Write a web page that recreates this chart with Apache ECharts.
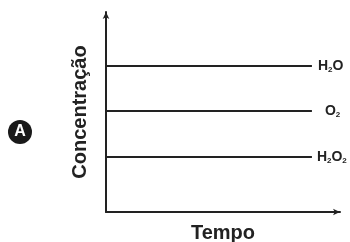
<!DOCTYPE html>
<html>
<head>
<meta charset="utf-8">
<script src="https://cdn.jsdelivr.net/npm/echarts@6/dist/echarts.min.js"></script>
<style>
  html, body { margin: 0; padding: 0; background: #fff; }
  #chart { width: 350px; height: 242px; }
</style>
</head>
<body>
<div id="chart"></div>
<script>
  // tempo (início e fim das linhas) e concentrações constantes
  const tempo = [0, 88];
  const especies = ['H2O', 'O2', 'H2O2'];
  const rotulos = ['{a|H}{s|2}{a|O}', '{a|O}{s|2}', '{a|H}{s|2}{a|O}{s|2}'];
  const concentracoes = [73, 50.5, 27.5];
  const afastamento = [6, 13, 5];

  const chart = echarts.init(document.getElementById('chart'));
  const FONT = 'Liberation Sans, Arial, sans-serif';
  const INK = '#222';

  const series = especies.map((nome, i) => ({
    name: nome,
    type: 'line',
    data: tempo.map(t => [t, concentracoes[i]]),
    symbol: 'none',
    lineStyle: { color: INK, width: 2 },
    endLabel: {
      show: true,
      distance: afastamento[i],
      formatter: () => rotulos[i],
      rich: {
        a: { fontFamily: FONT, fontWeight: 'bold', fontSize: 14, color: INK },
        s: { fontFamily: FONT, fontWeight: 'bold', fontSize: 8, color: INK, verticalAlign: 'bottom', padding: [7, 0, 0, 0] }
      }
    },
    animation: false
  }));

  chart.setOption({
    animation: false,
    grid: { left: 106, right: 10, top: 12, bottom: 30, outerBoundsMode: 'none', containLabel: false },
    xAxis: {
      type: 'value', min: 0, max: 100,
      name: 'Tempo', nameLocation: 'middle', nameGap: 11,
      nameTextStyle: { fontFamily: FONT, fontWeight: 'bold', fontSize: 20, color: INK },
      axisLine: { lineStyle: { color: INK, width: 2 }, symbol: ['none', 'arrow'], symbolSize: [5, 7] },
      axisTick: { show: false }, axisLabel: { show: false }, splitLine: { show: false }
    },
    yAxis: {
      type: 'value', min: 0, max: 100,
      name: 'Concentração', nameLocation: 'middle', nameGap: 16, nameRotate: 90,
      nameTextStyle: { fontFamily: FONT, fontWeight: 'bold', fontSize: 20, color: INK },
      axisLine: { show: true, lineStyle: { color: INK, width: 2 }, symbol: ['none', 'arrow'], symbolSize: [5, 7] },
      axisTick: { show: false }, axisLabel: { show: false }, splitLine: { show: false }
    },
    graphic: [{
      type: 'group', left: 8, top: 120,
      children: [
        { type: 'circle', shape: { cx: 12, cy: 12, r: 12 }, style: { fill: '#1a1a1a' } },
        { type: 'text', x: 12, y: 12, style: { text: 'A', fill: '#fff', font: 'bold 16px ' + FONT, align: 'center', verticalAlign: 'middle' } }
      ]
    }],
    series
  });
</script>
</body>
</html>
